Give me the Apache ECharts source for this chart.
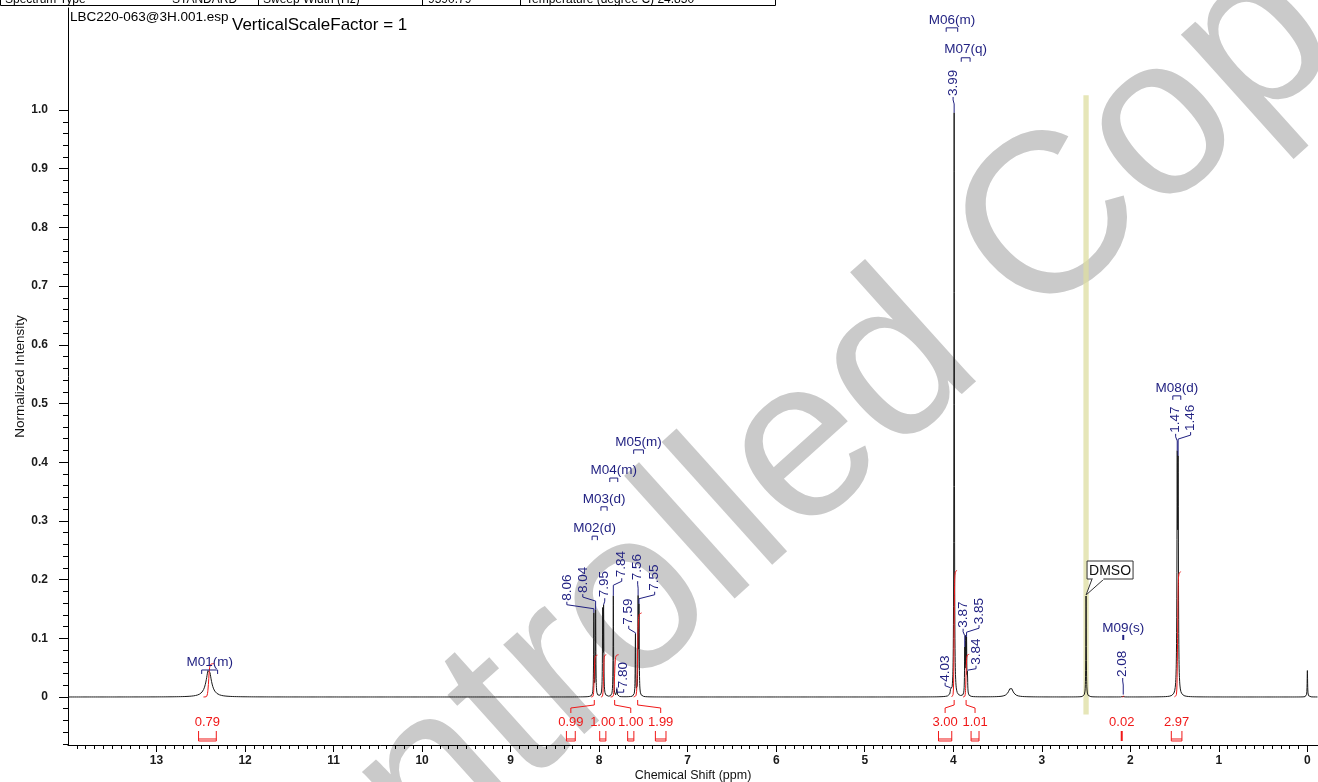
<!DOCTYPE html>
<html>
<head>
<meta charset="utf-8">
<title>LBC220-063 1H NMR</title>
<script src="https://cdn.jsdelivr.net/npm/echarts@6/dist/echarts.min.js"></script>
<style>
  html, body { margin: 0; padding: 0; background: #fff; }
  #chart { width: 1318px; height: 782px; }
</style>
</head>
<body>
<div id="chart"></div>
<script>
// ---- Resolved lines of the 1H spectrum (DMSO-d6) ----
const peakShifts  = [12.41, 8.06, 8.04, 7.96, 7.95, 7.84, 7.80, 7.59, 7.56, 7.55, 4.03, 3.99, 3.87, 3.86, 3.85, 3.84, 3.35, 2.50, 2.08, 1.47, 1.46, 0.00];
const peakHeights = [0.048, 0.140, 0.145, 0.140, 0.145, 0.172, 0.015, 0.105, 0.160, 0.145, 0.010, 0.995, 0.075, 0.090, 0.090, 0.035, 0.016, 0.172, 0.004, 0.370, 0.360, 0.045];
const peakWidths  = [0.035, 0.003, 0.003, 0.003, 0.003, 0.003, 0.004, 0.003, 0.003, 0.003, 0.004, 0.003, 0.003, 0.003, 0.003, 0.003, 0.030, 0.003, 0.003, 0.004, 0.004, 0.003];

// ---- Peak picks (shift labels) ----
const pickShifts     = [8.06, 8.04, 7.95, 7.84, 7.80, 7.59, 7.56, 7.55, 4.03, 3.99, 3.87, 3.85, 3.84, 2.08, 1.47, 1.46];
// column where each rotated label stands, and the level of its foot
const pickTextShift  = [8.365, 8.185, 7.937, 7.745, 7.723, 7.666, 7.565, 7.373, 4.092, 4.002, 3.889, 3.709, 3.743, 2.086, 1.488, 1.319];
const pickTextLevel  = [0.164, 0.177, 0.170, 0.204, 0.015, 0.123, 0.199, 0.181, 0.026, 1.024, 0.118, 0.124, 0.055, 0.034, 0.450, 0.453];

// ---- Multiplets ----
const multipletNames = ['M01(m)', 'M02(d)', 'M03(d)', 'M04(m)', 'M05(m)', 'M06(m)', 'M07(q)', 'M08(d)', 'M09(s)'];
const multipletFrom  = [12.49, 8.08, 7.98, 7.88, 7.61, 4.08, 3.91, 1.52, 2.08];
const multipletTo    = [12.31, 8.02, 7.91, 7.79, 7.50, 3.95, 3.81, 1.43, 2.08];
const multipletLevel = [0.046, 0.274, 0.324, 0.373, 0.421, 1.140, 1.089, 0.513, 0.104];

// ---- Integrals ----
const integralValues     = [0.79, 0.99, 1.00, 1.00, 1.99, 3.00, 1.01, 0.02, 2.97];
const integralFrom       = [12.47, 8.09, 7.98, 7.87, 7.61, 4.02, 3.89, 2.09, 1.50];
const integralTo         = [12.35, 8.02, 7.92, 7.78, 7.52, 3.96, 3.82, 2.07, 1.43];
const integralLabelShift = [12.425, 8.320, 7.959, 7.643, 7.305, 4.092, 3.754, 2.097, 1.477];
const integralBracket    = [0.100, 0.050, 0.035, 0.035, 0.060, 0.075, 0.045, 0.000, 0.060];

// ---- Axis ticks ----
const shiftLabels     = [0, 1, 2, 3, 4, 5, 6, 7, 8, 9, 10, 11, 12, 13];
const intensityLabels = [0, 0.1, 0.2, 0.3, 0.4, 0.5, 0.6, 0.7, 0.8, 0.9, 1.0];

const NAVY = '#1f1f80';
const RED = '#f01818';
const SANS = '"Liberation Sans", Arial, sans-serif';
const LABEL_FONT = '13.5px ' + SANS;
const INTEGRAL_SCALE = 0.072;       // curve rise per unit of integral
const integralProfile = [[0, 0], [0.3, 0.02], [0.42, 0.2], [0.5, 0.55], [0.58, 0.88], [0.7, 0.98], [1, 1]];

// Lorentzian sum of the resolved lines
function spectrumAt(ppm) {
  let s = 0;
  for (let i = 0; i < peakShifts.length; i++) {
    const d = (ppm - peakShifts[i]) / peakWidths[i];
    s += peakHeights[i] / (1 + d * d);
  }
  return s;
}

const spectrum = [];
for (let k = 14000; k >= -120; k--) {
  const p = k / 1000;
  spectrum.push([p, spectrumAt(p)]);
}

const minorShiftTicks = [];
for (let k = 0; k <= 139; k++) minorShiftTicks.push(k / 10);
const minorIntensityTicks = [];
for (let k = -4; k <= 50; k++) minorIntensityTicks.push(Math.round(k * 2) / 100);

function renderPick(params, api) {
  const i = params.dataIndex;
  const shift = pickShifts[i];
  const peak = api.coord([shift, spectrumAt(shift)]);
  const foot = api.coord([pickTextShift[i], pickTextLevel[i]]);
  const knee = Math.max(foot[1] + 4, Math.min(foot[1] + 8, peak[1]));
  const pts = [[foot[0], foot[1] + 1], [foot[0], foot[1] + 4], [peak[0], knee], [peak[0], peak[1]]];
  return {
    type: 'group',
    children: [
      { type: 'polyline', shape: { points: pts }, style: { stroke: NAVY, lineWidth: 1, fill: null } },
      { type: 'text', x: foot[0], y: foot[1], rotation: Math.PI / 2,
        style: { text: shift.toFixed(2), fill: NAVY, font: LABEL_FONT, align: 'left', verticalAlign: 'middle' } }
    ]
  };
}

function renderMultiplet(params, api) {
  const i = params.dataIndex;
  const a = api.coord([multipletFrom[i], multipletLevel[i]]);
  const b = api.coord([multipletTo[i], multipletLevel[i]]);
  const cx = (a[0] + b[0]) / 2;
  const children = [];
  if (Math.abs(b[0] - a[0]) < 1) {
    children.push({ type: 'line', shape: { x1: cx, y1: a[1] - 1, x2: cx, y2: a[1] + 4 }, style: { stroke: NAVY, lineWidth: 2 } });
  } else {
    children.push({ type: 'polyline', shape: { points: [[a[0], a[1] + 4], [a[0], a[1]], [b[0], a[1]], [b[0], a[1] + 4]] },
      style: { stroke: NAVY, lineWidth: 1, fill: null } });
  }
  children.push({ type: 'text', x: cx, y: a[1] - 1,
    style: { text: multipletNames[i], fill: NAVY, font: LABEL_FONT, align: 'center', verticalAlign: 'bottom' } });
  return { type: 'group', children };
}

function renderIntegral(params, api) {
  const i = params.dataIndex;
  const from = integralFrom[i], to = integralTo[i];
  const rise = integralValues[i] * INTEGRAL_SCALE;
  const base = api.coord([0, 0])[1];
  const lx = api.coord([integralLabelShift[i], 0])[0];
  const cx = api.coord([(from + to) / 2, 0])[0];
  const curve = integralProfile.map(([t, f]) => api.coord([from + (to - from) * t, rise * f]));
  const children = [
    { type: 'polyline', shape: { points: curve, smooth: 0.3 }, style: { stroke: RED, lineWidth: 1, fill: null } },
    { type: 'text', x: lx, y: base + 25,
      style: { text: integralValues[i].toFixed(2), fill: RED, font: '13px ' + SANS, align: 'center', verticalAlign: 'middle' } }
  ];
  if (Math.abs(lx - cx) > 3) {
    children.push({ type: 'polyline', shape: { points: [[lx, base + 16], [lx, base + 11], [cx, base + 8], [cx, base + 3]] },
      style: { stroke: RED, lineWidth: 1, fill: null } });
  }
  const x1 = api.coord([integralLabelShift[i] + integralBracket[i], 0])[0];
  const x2 = api.coord([integralLabelShift[i] - integralBracket[i], 0])[0];
  if (x2 - x1 < 1) {
    children.push({ type: 'line', shape: { x1: lx, y1: base + 34, x2: lx, y2: base + 44 }, style: { stroke: RED, lineWidth: 2 } });
  } else {
    children.push({ type: 'polyline', shape: { points: [[x1, base + 34], [x1, base + 44], [x2, base + 44], [x2, base + 34]] },
      style: { stroke: RED, lineWidth: 1, fill: null } });
    children.push({ type: 'line', shape: { x1: x1, y1: base + 42, x2: x2, y2: base + 42 }, style: { stroke: RED, lineWidth: 1 } });
  }
  return { type: 'group', children };
}

function renderSolvent(params, api) {
  const shift = api.value(0);
  const p = api.coord([shift, spectrumAt(shift)]);
  const bx = p[0] + 1, by = p[1] - 35, bw = 46, bh = 18;
  return {
    type: 'group',
    children: [
      { type: 'rect', shape: { x: bx, y: by, width: bw, height: bh }, style: { fill: '#fff', stroke: '#333', lineWidth: 1 } },
      { type: 'polygon', shape: { points: [[bx + 5, by + bh], [p[0], p[1] - 1], [bx + 17, by + bh]] },
        style: { fill: '#fff', stroke: '#333', lineWidth: 1 } },
      { type: 'line', shape: { x1: bx + 5.5, y1: by + bh, x2: bx + 16.5, y2: by + bh }, style: { stroke: '#fff', lineWidth: 2 } },
      { type: 'text', x: bx + bw / 2, y: by + bh / 2 + 1,
        style: { text: 'DMSO', fill: '#111', font: '14px ' + SANS, align: 'center', verticalAlign: 'middle' } }
    ]
  };
}

const chart = echarts.init(document.getElementById('chart'), null, { renderer: 'canvas' });

const axisFont = { color: '#1a1a1a', fontSize: 12, fontWeight: 'bold', fontFamily: SANS };

chart.setOption({
  animation: false,
  backgroundColor: '#fff',
  grid: { left: 68, right: 0, top: 8, bottom: 37, containLabel: false, outerBoundsMode: 'none' },
  xAxis: [
    {
      type: 'value', inverse: true, min: -0.12, max: 14,
      name: 'Chemical Shift (ppm)', nameLocation: 'middle', nameGap: 24, nameMoveOverlap: false,
      nameTextStyle: { color: '#111', fontSize: 12.5, fontFamily: SANS },
      axisLine: { show: true, onZero: false, lineStyle: { color: '#000', width: 1 } },
      axisTick: { show: true, customValues: shiftLabels, length: 7, lineStyle: { color: '#000' } },
      axisLabel: { customValues: shiftLabels, margin: 10, ...axisFont },
      splitLine: { show: false }
    },
    {
      type: 'value', inverse: true, min: -0.12, max: 14, gridIndex: 0, position: 'bottom',
      axisLine: { show: false, onZero: false },
      axisTick: { show: true, customValues: minorShiftTicks, length: 4, lineStyle: { color: '#000' } },
      axisLabel: { show: false },
      splitLine: { show: false }
    }
  ],
  yAxis: [
    {
      type: 'value', min: -0.0818, max: 1.1738, position: 'left',
      name: 'Normalized Intensity', nameLocation: 'middle', nameGap: 41, nameMoveOverlap: false,
      nameTextStyle: { color: '#111', fontSize: 13.5, fontFamily: SANS },
      axisLine: { show: true, onZero: false, lineStyle: { color: '#000', width: 1 } },
      axisTick: { show: true, customValues: intensityLabels, length: 9, lineStyle: { color: '#000' } },
      axisLabel: { customValues: intensityLabels, margin: 20, ...axisFont,
        formatter: v => (v === 0 ? '0' : v.toFixed(1)) },
      splitLine: { show: false }
    },
    {
      type: 'value', min: -0.0818, max: 1.1738, gridIndex: 0, position: 'left', offset: 0,
      axisLine: { show: false, onZero: false },
      axisTick: { show: true, customValues: minorIntensityTicks, length: 5, lineStyle: { color: '#000' } },
      axisLabel: { show: false },
      splitLine: { show: false }
    }
  ],
  graphic: [
    // acquisition table strip along the top edge
    { type: 'rect', z: 10, shape: { x: 0.5, y: -20, width: 775, height: 25.5 }, style: { fill: '#fff', stroke: '#000', lineWidth: 1 } },
    { type: 'line', z: 10, shape: { x1: 258.5, y1: -20, x2: 258.5, y2: 5 }, style: { stroke: '#000', lineWidth: 1 } },
    { type: 'line', z: 10, shape: { x1: 422.5, y1: -20, x2: 422.5, y2: 5 }, style: { stroke: '#000', lineWidth: 1 } },
    { type: 'line', z: 10, shape: { x1: 520.5, y1: -20, x2: 520.5, y2: 5 }, style: { stroke: '#000', lineWidth: 1 } },
    { type: 'text', z: 11, x: 5, y: 6, style: { text: 'Spectrum Type', font: '12px ' + SANS, fill: '#000', verticalAlign: 'bottom' } },
    { type: 'text', z: 11, x: 172, y: 6, style: { text: 'STANDARD', font: '12px ' + SANS, fill: '#000', verticalAlign: 'bottom' } },
    { type: 'text', z: 11, x: 263, y: 6, style: { text: 'Sweep Width (Hz)', font: '12px ' + SANS, fill: '#000', verticalAlign: 'bottom' } },
    { type: 'text', z: 11, x: 428, y: 6, style: { text: '9590.79', font: '12px ' + SANS, fill: '#000', verticalAlign: 'bottom' } },
    { type: 'text', z: 11, x: 526, y: 6, style: { text: 'Temperature (degree C) 24.850', font: '12px ' + SANS, fill: '#000', verticalAlign: 'bottom' } },
    // data-set caption
    { type: 'text', z: 11, x: 70, y: 17, style: { text: 'LBC220-063@3H.001.esp', font: '13.5px ' + SANS, fill: '#000', verticalAlign: 'middle' } },
    { type: 'text', z: 11, x: 232, y: 25, style: { text: 'VerticalScaleFactor = 1', font: '17px ' + SANS, fill: '#000', verticalAlign: 'middle' } },
    // document stamp
    { type: 'text', z: -10, x: 780, y: 473, rotation: 0.733,
      style: { text: 'Controlled Copy', font: '228px ' + SANS, fill: '#cacaca', align: 'center', verticalAlign: 'middle' } }
  ],
  series: [
    {
      name: 'solvent marker', type: 'line', data: [], z: 1, silent: true,
      markArea: { silent: true, itemStyle: { color: 'rgba(222,222,160,0.75)' },
        data: [[{ coord: [2.53, -0.03] }, { coord: [2.47, 1.025] }]] }
    },
    {
      name: 'spectrum', type: 'line', data: spectrum, showSymbol: false, symbol: 'none',
      sampling: false, progressive: 0, z: 3, clip: true,
      lineStyle: { color: '#1a1a1a', width: 1 }
    },
    {
      name: 'integrals', type: 'custom', z: 4, renderItem: renderIntegral,
      data: integralLabelShift.map(s => [s, 0]), encode: { x: 0, y: 1 }
    },
    {
      name: 'peak picks', type: 'custom', z: 5, renderItem: renderPick,
      data: pickShifts.map((s, i) => [s, pickTextLevel[i]]), encode: { x: 0, y: 1 }
    },
    {
      name: 'multiplets', type: 'custom', z: 5, renderItem: renderMultiplet,
      data: multipletNames.map((n, i) => [multipletFrom[i], multipletLevel[i]]), encode: { x: 0, y: 1 }
    },
    {
      name: 'solvent', type: 'custom', z: 6, renderItem: renderSolvent,
      data: [[2.50, 0]], encode: { x: 0, y: 1 }
    }
  ]
});
</script>
</body>
</html>
